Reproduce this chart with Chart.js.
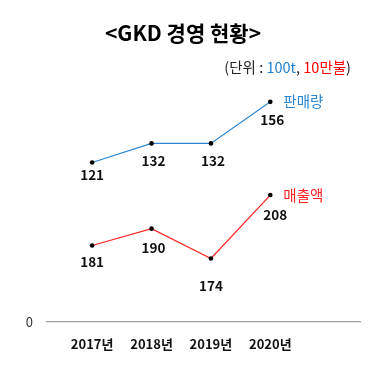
<!DOCTYPE html>
<html>
<head>
<meta charset="utf-8">
<script src="https://cdn.jsdelivr.net/npm/chart.js@4"></script>
<style>
html,body{margin:0;padding:0;background:#fff;}
#wrap{width:379px;height:380px;position:relative;}
</style>
</head>
<body>
<div id="wrap"><canvas id="c" width="379" height="380"></canvas></div>
<script>
const years = ['2017년', '2018년', '2019년', '2020년'];
const salesVolume = [121, 132, 132, 156];   // 판매량 (100t)
const revenue = [181, 190, 174, 208];       // 매출액 (10만불)
const seriesNames = ['판매량', '매출액'];
const titleText = '<GKD 경영 현황>';
const unitParts = [['(단위 : ', '#222'], ['100t', '#1f7fcf'], [', ', '#222'], ['10만불', '#ff0000'], [')', '#222']];

const BLUE = '#2a86d1';
const RED = '#ff2020';
const FONT = '"Noto Sans CJK KR", "Noto Sans", sans-serif';

const toPoints = arr => arr.map((v, i) => ({x: i, y: v}));

const textPlugin = {
  id: 'textPlugin',
  afterDatasetsDraw(chart, args, opts) {
    const ctx = chart.ctx;
    ctx.save();
    // title
    ctx.font = 'bold 21px ' + FONT;
    ctx.fillStyle = '#000';
    ctx.textAlign = 'center';
    ctx.textBaseline = 'middle';
    ctx.fillText(titleText, 183, 33);
    // unit subtitle (multi-colour)
    ctx.font = '14.5px ' + FONT;
    ctx.textAlign = 'left';
    let total = 0;
    unitParts.forEach(p => total += ctx.measureText(p[0]).width);
    let x = 351 - total;
    unitParts.forEach(p => {
      ctx.fillStyle = p[1];
      ctx.fillText(p[0], x, 67);
      x += ctx.measureText(p[0]).width;
    });
    // data labels and series names
    chart.data.datasets.forEach((ds, di) => {
      const meta = chart.getDatasetMeta(di);
      const offs = opts.offsets[di];
      ctx.font = 'bold 13.5px ' + FONT;
      ctx.fillStyle = '#111';
      ctx.textAlign = 'center';
      meta.data.forEach((pt, i) => {
        ctx.fillText(String(ds.data[i].y), pt.x + offs[i][0], pt.y + offs[i][1]);
      });
      const last = meta.data[meta.data.length - 1];
      ctx.font = '14.5px ' + FONT;
      ctx.fillStyle = ds.borderColor;
      ctx.textAlign = 'left';
      ctx.fillText(ds.label, last.x + 13, last.y + 0);
    });
    ctx.restore();
  }
};

new Chart(document.getElementById('c'), {
  type: 'line',
  data: {
    datasets: [
      {
        label: seriesNames[0],
        data: toPoints(salesVolume),
        yAxisID: 'yS',
        borderColor: BLUE,
        borderWidth: 1.2,
        pointRadius: 2.3,
        pointBackgroundColor: '#000',
        pointBorderColor: '#000',
        pointBorderWidth: 0,
        tension: 0
      },
      {
        label: seriesNames[1],
        data: toPoints(revenue),
        yAxisID: 'yR',
        borderColor: RED,
        borderWidth: 1.2,
        pointRadius: 2.3,
        pointBackgroundColor: '#000',
        pointBorderColor: '#000',
        pointBorderWidth: 0,
        tension: 0
      }
    ]
  },
  options: {
    responsive: false,
    animation: false,
    devicePixelRatio: 1,
    layout: {padding: {top: 70, right: 19, left: 0, bottom: 0}},
    plugins: {
      legend: {display: false},
      title: {display: false},
      tooltip: {enabled: false},
      textPlugin: {
        offsets: [
          [[0, 12], [2, 17], [2, 17], [2, 18]],
          [[0, 16], [2, 19], [0, 27], [5, 20]]
        ]
      }
    },
    scales: {
      x: {
        type: 'linear',
        min: -0.76,
        max: 4.51,
        grid: {display: false, drawTicks: false},
        border: {display: true, color: '#a0a0a0', width: 1.2},
        afterBuildTicks(scale) {
          scale.ticks = years.map((_, i) => ({value: i}));
        },
        afterFit(scale) { scale.height = 58; },
        ticks: {
          autoSkip: false,
          maxRotation: 0,
          padding: 14,
          color: '#111',
          font: {family: FONT, size: 13, weight: 'bold'},
          callback: v => years[v] !== undefined ? years[v] : ''
        }
      },
      y: {
        position: 'left',
        min: 0,
        max: 1,
        grid: {display: false, drawTicks: false},
        border: {display: false},
        afterBuildTicks(scale) { scale.ticks = [{value: 0}]; },
        afterFit(scale) { scale.width = 47; },
        ticks: {
          padding: 14,
          color: '#333',
          font: {family: FONT, size: 13},
          callback: v => '0'
        }
      },
      yS: {display: false, min: 28.85, max: 174.4},
      yR: {display: false, min: 140.0, max: 275.0}
    }
  },
  plugins: [textPlugin]
});
</script>
</body>
</html>
